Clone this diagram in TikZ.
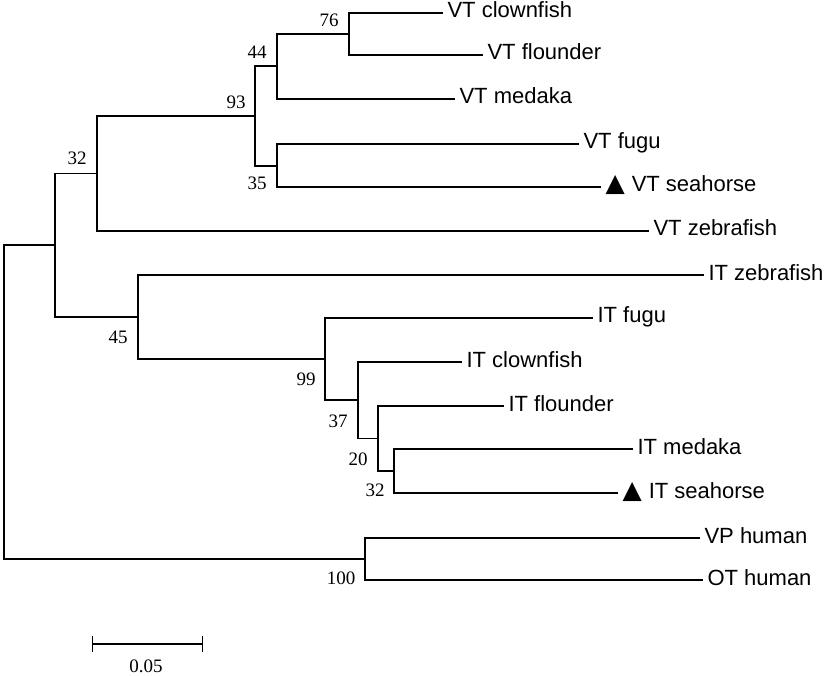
\documentclass[tikz,border=0pt]{standalone}
\usepackage{fontspec}
\setmainfont{Liberation Sans}
\newfontfamily\bootfont{Liberation Serif}
\newfontfamily\symfont{DejaVu Sans}
\usetikzlibrary{arrows.meta}
\newcommand\seamark{{\symfont\fontsize{25}{25}\selectfont ▲}\hspace{7pt}}

\begin{document}
\begin{tikzpicture}[x=1pt,y=-1pt,line width=1.1pt,
  leaf/.style={anchor=west,inner xsep=4pt,inner ysep=0pt,
    text height=14pt,text depth=4pt,font=\fontsize{22}{24}\selectfont},
  boot/.style={inner sep=0pt,font=\bootfont\fontsize{19}{20}\selectfont}]
\useasboundingbox (0,0) rectangle (827,676);

% leaves
\node[leaf] (vtclown) at (443,13) {VT clownfish};
\node[leaf] (vtfloun) at (483,55) {VT flounder};
\node[leaf] (vtmed)   at (455,99) {VT medaka};
\node[leaf] (vtfugu)  at (579,144) {VT fugu};
\node[leaf] (vtsea)   at (601,187) {\seamark VT seahorse};
\node[leaf] (vtzeb)   at (649,231) {VT zebrafish};
\node[leaf] (itzeb)   at (704,275) {IT zebrafish};
\node[leaf] (itfugu)  at (593,318) {IT fugu};
\node[leaf] (itclown) at (462,362) {IT clownfish};
\node[leaf] (itfloun) at (504,406) {IT flounder};
\node[leaf] (itmed)   at (633,449) {IT medaka};
\node[leaf] (itsea)   at (618,493) {\seamark IT seahorse};
\node[leaf] (vphum)   at (700,538) {VP human};
\node[leaf] (othum)   at (703,580) {OT human};

% inner nodes
\coordinate (n76)  at (349,34);
\coordinate (n44)  at (277,66);
\coordinate (n35)  at (277,166);
\coordinate (n93)  at (255,116);
\coordinate (n32a) at (97,173.5);
\coordinate (n32b) at (394,471);
\coordinate (n20)  at (378,438.5);
\coordinate (n37)  at (358,400);
\coordinate (n99)  at (325,359);
\coordinate (n45)  at (138,317);
\coordinate (nvi)  at (55,245);
\coordinate (nhum) at (365,559);
\coordinate (root) at (4,402);

% branches
\draw (n76) |- (vtclown.west);
\draw (n76) |- (vtfloun.west);
\draw (n44) |- (n76);
\draw (n44) |- (vtmed.west);
\draw (n35) |- (vtfugu.west);
\draw (n35) |- (vtsea.west);
\draw (n93) |- (n44);
\draw (n93) |- (n35);
\draw (n32a) |- (n93);
\draw (n32a) |- (vtzeb.west);
\draw (n32b) |- (itmed.west);
\draw (n32b) |- (itsea.west);
\draw (n20) |- (itfloun.west);
\draw (n20) |- (n32b);
\draw (n37) |- (itclown.west);
\draw (n37) |- (n20);
\draw (n99) |- (itfugu.west);
\draw (n99) |- (n37);
\draw (n45) |- (itzeb.west);
\draw (n45) |- (n99);
\draw (nvi) |- (n32a);
\draw (nvi) |- (n45);
\draw (nhum) |- (vphum.west);
\draw (nhum) |- (othum.west);
\draw (root) |- (nvi);
\draw (root) |- (nhum);

% bootstrap values
\node[boot] (b76)  at (329,20)  {76};
\node[boot] (b44)  at (257,52)  {44};
\node[boot] (b93)  at (236,102) {93};
\node[boot] (b35)  at (257,183) {35};
\node[boot] (b32a) at (77,158)  {32};
\node[boot] (b45)  at (118,337) {45};
\node[boot] (b99)  at (306,379) {99};
\node[boot] (b37)  at (338,421) {37};
\node[boot] (b20)  at (358,459) {20};
\node[boot] (b32b) at (375,490) {32};
\node[boot] (b100) at (341,578) {100};

% scale bar
\coordinate (sbl) at (92,644);
\coordinate (sbr) at (203,644);
\draw[{Bar[width=16pt]}-{Bar[width=16pt]}] (sbl) -- (sbr);
\node[boot] (sblab) at (146,666) {0.05};
\end{tikzpicture}
\end{document}
